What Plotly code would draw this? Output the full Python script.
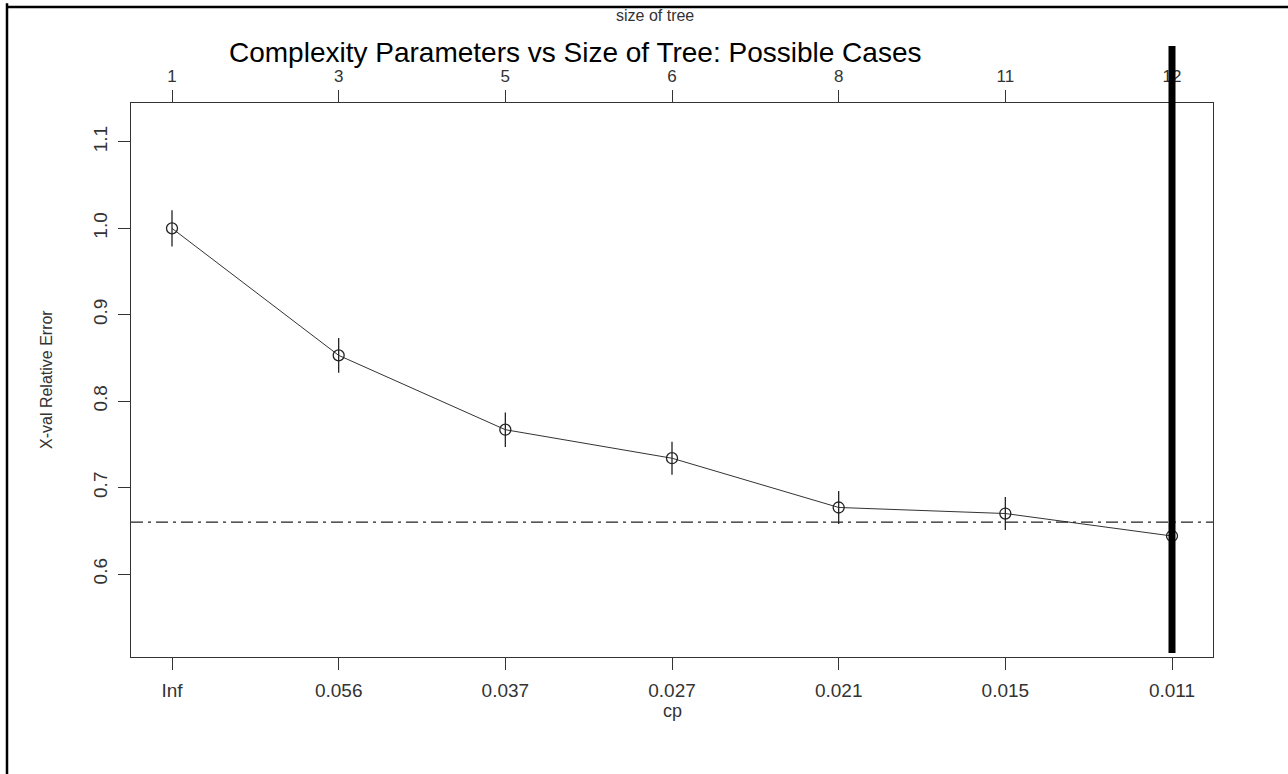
import plotly.graph_objects as go

# Data
cp_labels = ["Inf", "0.056", "0.037", "0.027", "0.021", "0.015", "0.011"]
tree_sizes = ["1", "3", "5", "6", "8", "11", "12"]
xerror = [1.000, 0.853, 0.767, 0.734, 0.677, 0.670, 0.644]
xstd = [0.021, 0.020, 0.020, 0.019, 0.019, 0.019, 0.019]
threshold = 0.660
chosen_index = 7
y_ticks = [0.6, 0.7, 0.8, 0.9, 1.0, 1.1]

pos = list(range(1, len(cp_labels) + 1))
FONT = "Liberation Sans, Arial, sans-serif"
TICK_COL = "#333333"

fig = go.Figure()
fig.add_trace(go.Scatter(
    x=pos, y=xerror, mode="lines+markers",
    line=dict(color="#333333", width=1),
    marker=dict(symbol="circle-open", size=11, color="#222222", line=dict(width=1.3)),
    error_y=dict(type="data", array=xstd, visible=True, thickness=1.3, width=0, color="#222222"),
    showlegend=False, hoverinfo="x+y", xaxis="x", yaxis="y",
))
# invisible trace for the top axis
fig.add_trace(go.Scatter(x=pos, y=xerror, mode="markers", marker=dict(opacity=0),
                         showlegend=False, hoverinfo="skip", xaxis="x2", yaxis="y"))

xr = [0.754, 7.246]
fig.update_layout(
    width=1288, height=774,
    margin=dict(l=131, r=75, t=103, b=117),
    paper_bgcolor="white", plot_bgcolor="white",
    font=dict(family=FONT, color=TICK_COL),
    xaxis=dict(range=xr, tickvals=pos, ticktext=cp_labels, showgrid=False, zeroline=False,
               showline=True, linecolor="#333333", linewidth=1.3, mirror=True,
               ticks="outside", ticklen=12, tickwidth=1.3, tickcolor="#333333",
               ticklabelstandoff=4,
               tickfont=dict(size=19, color=TICK_COL, family=FONT)),
    xaxis2=dict(range=xr, tickvals=pos, ticktext=tree_sizes, overlaying="x", side="top",
                showgrid=False, zeroline=False, showline=False,
                ticks="outside", ticklen=12, tickwidth=1.3, tickcolor="#333333",
                ticklabelstandoff=1,
                tickfont=dict(size=17, color=TICK_COL, family=FONT)),
    yaxis=dict(range=[0.504, 1.145], tickvals=y_ticks, ticktext=[f"{v:.1f}" for v in y_ticks],
               tickangle=-90, showgrid=False, zeroline=False,
               showline=True, linecolor="#333333", linewidth=1.3, mirror=True,
               ticks="outside", ticklen=12, tickwidth=1.3, tickcolor="#333333",
               ticklabelstandoff=3,
               tickfont=dict(size=19, color=TICK_COL, family=FONT)),
)

# dash-dot reference line
fig.add_shape(type="line", xref="x domain", yref="y", x0=0, x1=1, y0=threshold, y1=threshold,
              line=dict(color="#222222", width=1.2, dash="12px,5px,3px,5px"))
# thick vertical line at chosen tree
fig.add_shape(type="line", xref="x", yref="paper", x0=chosen_index, x1=chosen_index,
              y0=0.007, y1=1.103, line=dict(color="black", width=7))
# outer image border (left and top)
fig.add_shape(type="line", xref="paper", yref="paper", x0=-0.1146, x1=-0.1146, y0=-0.3, y1=1.18,
              line=dict(color="black", width=2.5))
fig.add_shape(type="line", xref="paper", yref="paper", x0=-0.1146, x1=1.1, y0=1.1733, y1=1.1733,
              line=dict(color="black", width=2.5))

fig.add_annotation(text="Complexity Parameters vs Size of Tree: Possible Cases",
                   xref="paper", yref="paper", x=0.41, y=1, yshift=51, xanchor="center",
                   yanchor="middle", showarrow=False, font=dict(size=28, color="black", family=FONT))
fig.add_annotation(text="size of tree", xref="paper", yref="paper", x=0.484, y=1, yshift=88,
                   xanchor="center", yanchor="middle", showarrow=False,
                   font=dict(size=16, color=TICK_COL, family=FONT))
fig.add_annotation(text="cp", xref="paper", yref="paper", x=0.5, y=0, yshift=-54,
                   xanchor="center", yanchor="middle", showarrow=False,
                   font=dict(size=18, color=TICK_COL, family=FONT))
fig.add_annotation(text="X-val Relative Error", xref="paper", yref="paper", x=0, y=0.5, xshift=-85,
                   xanchor="center", yanchor="middle", textangle=-90, showarrow=False,
                   font=dict(size=16, color=TICK_COL, family=FONT))

fig.write_html("out.html", config={"displayModeBar": False},
               post_script="document.body.style.margin='0';")
